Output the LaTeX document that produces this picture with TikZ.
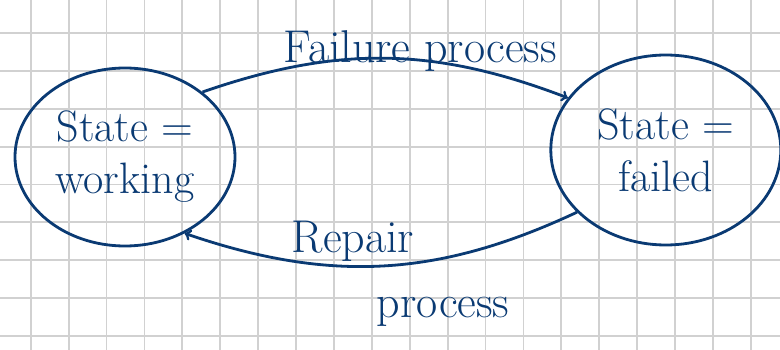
\documentclass[tikz,border=0pt]{standalone}
\usepackage{tikz}
\usetikzlibrary{shapes,arrows,positioning}
\definecolor{ink}{RGB}{10,58,115}

\begin{document}
\begin{tikzpicture}[x=1pt, y=-1pt,
  gridline/.style={draw=black!18, line width=1.8pt},
  statebox/.style={draw=ink, ellipse, line width=2.8pt, text=ink, align=center,
    inner sep=0pt, font=\fontsize{44}{52}\selectfont},
  flow/.style={draw=ink, line width=2.8pt, ->, text=ink,
    font=\fontsize{46}{52}\selectfont}]
\useasboundingbox (0,0) rectangle (780,350);
\fill[white] (0,0) rectangle (780,350);
% squared paper
\foreach \k in {0,...,19}
  \draw[gridline] (30.7+37.9*\k,0) -- (30.7+37.9*\k,350);
\foreach \k in {0,...,8}
  \draw[gridline] (0,33.3+37.8*\k) -- (780,33.3+37.8*\k);

\node[statebox, minimum width=220pt, minimum height=178pt] (working) at (125,157) {State =\\working};
\node[statebox, minimum width=230pt, minimum height=190pt, right=313pt of working, yshift=7pt] (failed) {State =\\failed};

\draw[flow] (working.40) to[bend left=20] node[pos=0.6, above=-16pt] {Failure process} (failed.152);
\draw[flow, <-] (working.-52) to[bend right=22]
  node[pos=0.42, above=0pt] {Repair}
  node[pos=0.66, below=34pt] {process} (failed.215);
\end{tikzpicture}
\end{document}
